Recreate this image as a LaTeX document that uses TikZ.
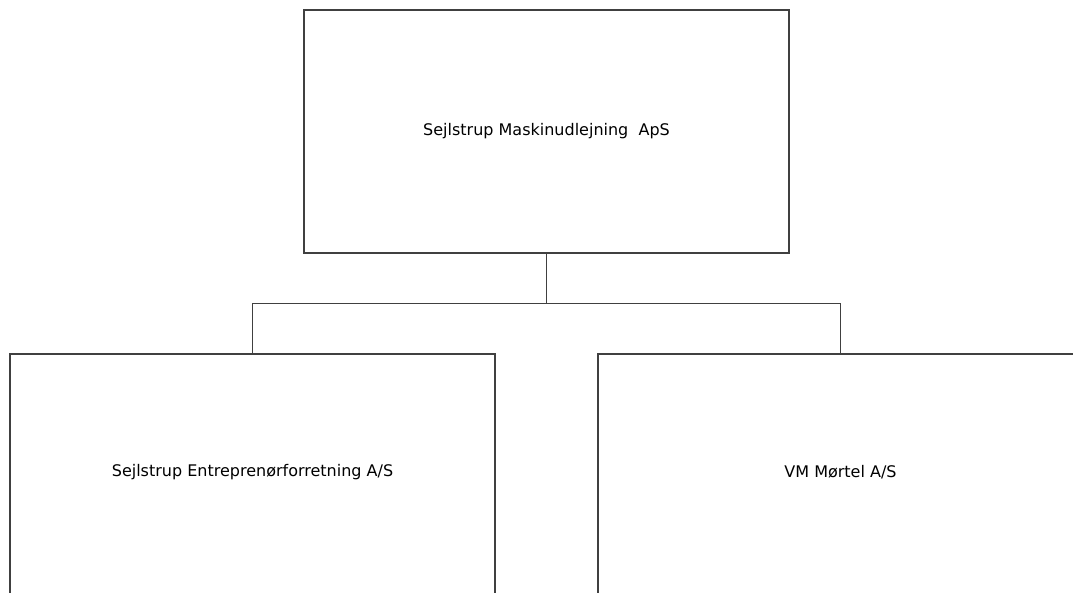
\documentclass[tikz,border=0pt]{standalone}
\usepackage{fontspec}
\setmainfont{DejaVu Sans}
\usetikzlibrary{%
  positioning,% wg. " of "
  calc
}

\tikzset{
  orgbox/.style={draw=black!75,line width=1pt,inner sep=0pt,outer sep=0pt,
    minimum width=363.75pt,minimum height=182.25pt,font=\fontsize{12}{14}\selectfont},
  orgline/.style={draw=black!75,line width=1.4pt},
}

\begin{document}
\begin{tikzpicture}[
  x=0.75pt,
  y=-0.75pt,
]

\useasboundingbox (0,0) rectangle (1073,592);
\clip (0,0) rectangle (1073,592);

\node[orgbox] (moder) at (546.5,131.5) {Sejlstrup Maskinudlejning\ \ ApS};
\node[orgbox] (entre) at (252.5,475.5) {};
\node[orgbox] (moertel) at (840.5,475.5) {};
\node (entretxt) at (252.5,472) {\fontsize{12}{14}\selectfont Sejlstrup Entreprenørforretning A/S};
\node (moerteltxt) at (840.5,472) {\fontsize{12}{14}\selectfont VM Mørtel A/S};

\coordinate (split) at (546.5,303.5);
\draw[orgline] (moder.south) -- (split);
\draw[orgline] (split) -| (entre.north);
\draw[orgline] (split) -| (moertel.north);

\end{tikzpicture}
\end{document}
